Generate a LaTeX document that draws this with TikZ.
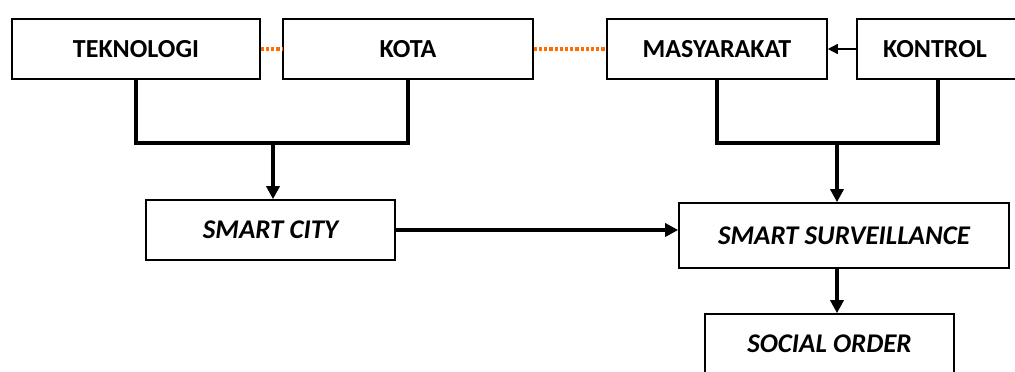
\documentclass[tikz,border=0pt]{standalone}
\usepackage{fontspec}
\setmainfont{Carlito}
\usetikzlibrary{arrows.meta}

\begin{document}
\begin{tikzpicture}[x=1pt, y=-1pt,
    box/.style={draw, line width=1.6pt, minimum height=60pt, inner sep=0pt, font=\fontsize{26}{30}\selectfont\bfseries},
    ibox/.style={box, font=\fontsize{27}{31}\selectfont\bfseries\itshape},
    link/.style={line width=3.6pt},
    arr/.style={link, -{Triangle[length=13pt, width=13pt]}},
    dots/.style={draw=orange!85!red, line width=3.2pt, dotted}]
    \useasboundingbox (0,0) rectangle (1015,372);
    \fill[white] (0,0) rectangle (1015,372);

    \node[box, minimum width=248pt] (tek) at (136,49) {TEKNOLOGI};
    \node[box, minimum width=250pt] (kota) at (408,49) {KOTA};
    \node[box, minimum width=220pt] (masy) at (717,49) {MASYARAKAT};
    \node[box, minimum width=162pt] (kontrol) at (938,49) {\hspace*{-6pt}KONTROL};

    \node[ibox, minimum width=249pt] (city) at (270.5,230) {SMART CITY};
    \node[ibox, minimum width=330pt, minimum height=65pt] (surv) at (844,235.5) {SMART SURVEILLANCE};
    \node[ibox, minimum width=249pt] (order) at (829.5,344) {SOCIAL ORDER};

    \coordinate (jl) at (273,143);
    \coordinate (jr) at (837,143);

    % dotted links between the top boxes
    \draw[dots] (tek) -- (kota);
    \draw[dots] (kota) -- (masy);
    \draw[line width=1.6pt, -{Triangle[length=10pt, width=10pt]}] (kontrol) -- (masy);

    \draw[link] (tek.south) |- (jl) -| (kota.south);
    \draw[arr] (jl) -- (jl |- city.north);
    \draw[link] (masy.south) |- (jr) -| (kontrol.south);
    \draw[arr] (jr) -- (jr |- surv.north);

    \draw[arr] (city.east) -- (city.east -| surv.west);
    \draw[arr] (order.north -| jr) ++(0,-46) -- (order.north -| jr);
\end{tikzpicture}
\end{document}
